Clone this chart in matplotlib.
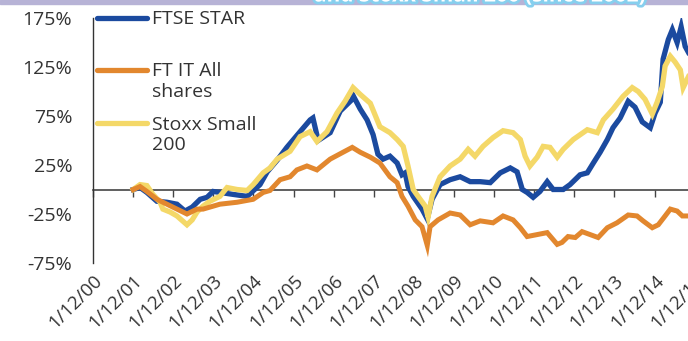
import matplotlib.pyplot as plt
import matplotlib.patheffects as pe
from matplotlib.patches import Rectangle

plt.rcParams['font.family'] = ['Open Sans', 'DejaVu Sans']

# cumulative performance since 1/12/01, in %
star_t = [2001.92, 2002.09, 2002.26, 2002.51, 2002.76, 2003.01, 2003.21, 2003.39, 2003.59,
          2003.76, 2003.91, 2004.08, 2004.41, 2004.76, 2005.08, 2005.26, 2005.51, 2005.75,
          2006.08, 2006.33, 2006.40, 2006.53, 2006.83, 2007.08, 2007.38, 2007.40, 2007.58,
          2007.75, 2007.90, 2008.02, 2008.15, 2008.32, 2008.50, 2008.62, 2008.70, 2008.77,
          2008.90, 2009.12, 2009.25, 2009.37, 2009.57, 2009.82, 2010.07, 2010.32, 2010.57,
          2010.82, 2011.07, 2011.32, 2011.49, 2011.62, 2011.74, 2011.89, 2012.06, 2012.24,
          2012.39, 2012.64, 2012.81, 2013.06, 2013.24, 2013.39, 2013.56, 2013.74, 2013.88,
          2014.06, 2014.26, 2014.43, 2014.61, 2014.81, 2014.93, 2015.06, 2015.13, 2015.26,
          2015.36, 2015.48, 2015.58, 2015.68, 2015.76]
star_v = [0, 2, -3, -12, -13, -15, -22, -18, -10,
          -8, -2, -3, -5, -7, 5, 18, 30, 43,
          59, 71, 73, 50, 58, 80, 92, 96, 82,
          71, 56, 36, 31, 34, 27, 15, 17, 3,
          -7, -20, -30, -10, 5, 10, 13, 8, 8,
          7, 17, 22, 18, 0, -3, -8, -2, 8,
          0, 0, 5, 15, 17, 27, 38, 51, 63,
          73, 90, 84, 69, 63, 78, 89, 133, 153,
          163, 150, 166, 146, 140]

ftit_t = [2001.92, 2002.09, 2002.26, 2002.51, 2002.76, 2003.01, 2003.26, 2003.51, 2003.66,
          2004.08, 2004.51, 2004.91, 2005.16, 2005.33, 2005.58, 2005.83, 2006.00, 2006.25,
          2006.50, 2006.83, 2007.15, 2007.38, 2007.58, 2007.83, 2008.07, 2008.32, 2008.50,
          2008.62, 2008.77, 2008.95, 2009.12, 2009.25, 2009.32, 2009.52, 2009.82, 2010.07,
          2010.32, 2010.57, 2010.89, 2011.14, 2011.39, 2011.57, 2011.74, 2011.99, 2012.24,
          2012.49, 2012.61, 2012.76, 2012.94, 2013.11, 2013.31, 2013.51, 2013.74, 2013.98,
          2014.26, 2014.48, 2014.63, 2014.86, 2015.01, 2015.18, 2015.31, 2015.48, 2015.61,
          2015.76]
ftit_v = [0, 3, -2, -10, -15, -20, -25, -20, -20,
          -15, -13, -10, -3, -1, 10, 13, 20, 24,
          20, 31, 38, 43, 38, 33, 27, 13, 7,
          -7, -17, -31, -38, -57, -38, -31, -24, -26,
          -36, -32, -34, -27, -31, -39, -48, -46, -44,
          -56, -54, -48, -49, -43, -46, -49, -39, -34,
          -26, -27, -32, -39, -36, -27, -20, -22, -27,
          -27]

stoxx_t = [2001.92, 2002.09, 2002.26, 2002.41, 2002.59, 2002.66, 2002.84, 2003.01, 2003.26,
           2003.39, 2003.51, 2003.66, 2003.83, 2004.08, 2004.26, 2004.51, 2004.76, 2004.91,
           2005.16, 2005.33, 2005.51, 2005.83, 2006.08, 2006.33, 2006.50, 2006.75, 2007.00,
           2007.20, 2007.40, 2007.58, 2007.83, 2008.07, 2008.32, 2008.50, 2008.65, 2008.77,
           2008.90, 2009.02, 2009.20, 2009.27, 2009.37, 2009.57, 2009.82, 2010.07, 2010.27,
           2010.44, 2010.64, 2010.89, 2011.14, 2011.39, 2011.57, 2011.69, 2011.81, 2011.99,
           2012.14, 2012.31, 2012.49, 2012.64, 2012.89, 2013.24, 2013.49, 2013.64, 2013.88,
           2014.13, 2014.36, 2014.51, 2014.68, 2014.86, 2014.98, 2015.11, 2015.18, 2015.31,
           2015.43, 2015.56, 2015.63, 2015.76]
stoxx_v = [0, 5, 4, -5, -13, -20, -23, -27, -36,
           -31, -23, -17, -12, -7, 2, 0, -1, 5,
           17, 22, 31, 39, 54, 59, 49, 59, 78,
           90, 104, 97, 88, 64, 58, 51, 44, 24,
           0, -7, -17, -28, -7, 13, 24, 31, 41,
           34, 44, 53, 60, 58, 51, 34, 24, 33,
           44, 43, 33, 41, 51, 61, 58, 71, 82,
           95, 104, 100, 92, 77, 89, 105, 126, 136,
           130, 122, 104, 115]

tick_years = [2000.917 + k for k in range(16)]
tick_labels = ['1/12/%02d' % k for k in range(16)]
y_ticks = [175, 125, 75, 25, -25, -75]
y_labels = ['175%', '125%', '75%', '25%', '-25%', '-75%']

names = ['FTSE STAR', 'FT IT All\nshares', 'Stoxx Small\n200']
colors = ['#1b4a9f', '#e2872e', '#f4d868']

fig = plt.figure(figsize=(6.88, 3.41), dpi=100)
ax = fig.add_axes([93 / 688, 78 / 341, 605 / 688, 245 / 341])

ax.plot(star_t, star_v, color=colors[0], lw=3.8, solid_joinstyle='miter')
ax.plot(stoxx_t, stoxx_v, color=colors[2], lw=3.8, solid_joinstyle='miter')
ax.plot(ftit_t, ftit_v, color=colors[1], lw=3.6, solid_joinstyle='miter')

ax.set_xlim(2000.917, 2016.0)
ax.set_ylim(-75, 175)
ax.set_yticks(y_ticks)
ax.set_yticklabels(y_labels, fontsize=14, color='#333333')
ax.tick_params(axis='y', length=0, pad=15)

ax.set_xticks(tick_years)
ax.set_xticklabels(tick_labels, fontsize=13.5, color='#333333', rotation=45,
                   ha='right', va='top', rotation_mode='anchor')
ax.tick_params(axis='x', length=0, pad=6)

for side in ['top', 'right', 'bottom']:
    ax.spines[side].set_visible(False)
ax.spines['left'].set_color('#333333')
ax.spines['left'].set_linewidth(1.0)

# zero line with its own ticks
zero_axis = ax.secondary_xaxis(75 / 250)
zero_axis.set_xticks(tick_years)
zero_axis.tick_params(axis='x', length=5, width=1, color='#444444', labelbottom=False)
zero_axis.spines['bottom'].set_color('#444444')
zero_axis.spines['bottom'].set_linewidth(1.2)

# legend drawn by hand so the handle sits on the first text line
legend_y = [1.0, 0.788, 0.571]
for name, color, ly in zip(names, colors, legend_y):
    ax.plot([0.006, 0.09], [ly, ly], color=color, lw=3.8, transform=ax.transAxes,
            clip_on=False, solid_capstyle='round')
    ax.text(0.097, ly + 0.031, name, transform=ax.transAxes, fontsize=14, color='#333333',
            va='top', ha='left', linespacing=1.2)

# cut-off banner at the top of the scan
fig.patches.append(Rectangle((0, 1 - 4 / 341), 1, 4 / 341, transform=fig.transFigure,
                             color='#b7b3d6', zorder=0))
fig.text(646 / 688, 1 - 6.5 / 341, 'and Stoxx Small 200 (since 2002)', color='white',
         fontsize=15, fontweight='bold', ha='right', va='bottom',
         path_effects=[pe.withStroke(linewidth=4, foreground='#86cfee')])

fig.savefig('out.png', dpi=100)
